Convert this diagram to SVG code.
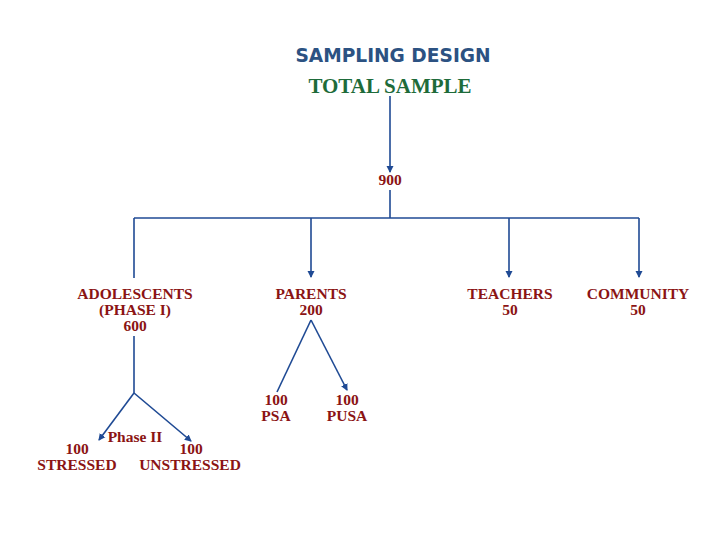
<svg xmlns="http://www.w3.org/2000/svg" width="728" height="546" viewBox="0 0 728 546">
<style>
.lbl{font-family:"Liberation Serif","Times New Roman",serif;font-weight:bold;font-size:15.5px;fill:#8B1414;text-anchor:middle}
.ln{stroke:#1F4A94;stroke-width:1.6;fill:none}
</style>
<defs>
<marker id="ah" markerWidth="8" markerHeight="8" refX="6" refY="4" orient="auto" markerUnits="userSpaceOnUse">
<path d="M0,0.5 L7,4 L0,7.5 Z" fill="#1F4A94"/>
</marker>
</defs>
<rect width="728" height="546" fill="#fff"/>
<g id="title">
<text x="393" y="62" font-family="'DejaVu Sans',Verdana,sans-serif" font-weight="bold" font-size="18.6" fill="#2C5282" text-anchor="middle">SAMPLING DESIGN</text>
</g>
<g id="total">
<text x="390" y="93" font-family="'Liberation Serif','Times New Roman',serif" font-weight="bold" font-size="21" fill="#1E6B3A" text-anchor="middle">TOTAL SAMPLE</text>
</g>
<g id="n900"><text class="lbl" x="390" y="185">900</text></g>
<g id="adolescents">
<text class="lbl" x="135" y="299">ADOLESCENTS</text>
<text class="lbl" x="135" y="315">(PHASE I)</text>
<text class="lbl" x="135" y="331">600</text>
</g>
<g id="parents">
<text class="lbl" x="311" y="299">PARENTS</text>
<text class="lbl" x="311" y="315">200</text>
</g>
<g id="teachers">
<text class="lbl" x="510" y="299">TEACHERS</text>
<text class="lbl" x="510" y="315">50</text>
</g>
<g id="community">
<text class="lbl" x="638" y="299">COMMUNITY</text>
<text class="lbl" x="638" y="315">50</text>
</g>
<g id="phase2"><text class="lbl" x="135" y="442">Phase II</text></g>
<g id="stressed">
<text class="lbl" x="77" y="454">100</text>
<text class="lbl" x="77" y="470">STRESSED</text>
</g>
<g id="unstressed">
<text class="lbl" x="191" y="454">100</text>
<text class="lbl" x="190" y="470">UNSTRESSED</text>
</g>
<g id="psa">
<text class="lbl" x="276" y="405">100</text>
<text class="lbl" x="276" y="421">PSA</text>
</g>
<g id="pusa">
<text class="lbl" x="347" y="405">100</text>
<text class="lbl" x="347" y="421">PUSA</text>
</g>
<g id="connectors">
<line class="ln" x1="390" y1="96" x2="390" y2="172" marker-end="url(#ah)"/>
<line class="ln" x1="390" y1="190" x2="390" y2="218"/>
<line class="ln" x1="134" y1="218" x2="639" y2="218"/>
<line class="ln" x1="134" y1="218" x2="134" y2="278"/>
<line class="ln" x1="311" y1="218" x2="311" y2="277" marker-end="url(#ah)"/>
<line class="ln" x1="509" y1="218" x2="509" y2="277" marker-end="url(#ah)"/>
<line class="ln" x1="639" y1="218" x2="639" y2="277" marker-end="url(#ah)"/>
<line class="ln" x1="134" y1="336" x2="134" y2="393"/>
<line class="ln" x1="134" y1="393" x2="99" y2="440" marker-end="url(#ah)"/>
<line class="ln" x1="134" y1="393" x2="191" y2="441" marker-end="url(#ah)"/>
<line class="ln" x1="311" y1="320" x2="277" y2="392"/>
<line class="ln" x1="311" y1="320" x2="347" y2="390" marker-end="url(#ah)"/>
</g>
</svg>
